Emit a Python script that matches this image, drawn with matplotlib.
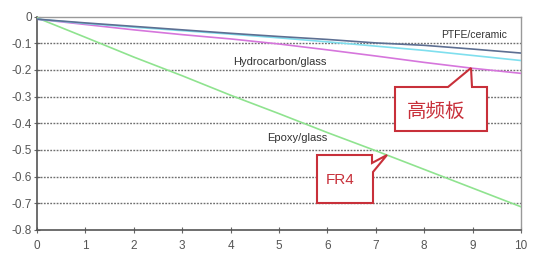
import matplotlib
matplotlib.use("Agg")
import matplotlib.pyplot as plt
from matplotlib.patches import Polygon

plt.rcParams['font.family'] = ['Liberation Sans', 'Noto Sans CJK SC', 'DejaVu Sans']

x = [0, 1, 2, 3, 4, 5, 6, 7, 8, 9, 10]
ptfe = [-0.010, -0.024, -0.037, -0.050, -0.063, -0.075, -0.086, -0.099, -0.108, -0.122, -0.137]
cyan = [-0.010, -0.026, -0.040, -0.053, -0.066, -0.080, -0.095, -0.111, -0.127, -0.146, -0.165]
hydro = [-0.010, -0.030, -0.050, -0.068, -0.084, -0.103, -0.125, -0.148, -0.172, -0.194, -0.213]
epoxy = [-0.005, -0.078, -0.152, -0.222, -0.295, -0.364, -0.435, -0.503, -0.573, -0.643, -0.713]

yticks = [0, -0.1, -0.2, -0.3, -0.4, -0.5, -0.6, -0.7, -0.8]
ytick_labels = ['0', '-0.1', '-0.2', '-0.3', '-0.4', '-0.5', '-0.6', '-0.7', '-0.8']
xticks = x
xtick_labels = [str(v) for v in x]

W, H = 539, 260
fig = plt.figure(figsize=(W / 100, H / 100), dpi=100)
x0p, x1p, y0p, y1p = 37, 521, 16.5, 230
ax = fig.add_axes([x0p / W, 1 - y1p / H, (x1p - x0p) / W, (y1p - y0p) / H])
ax.set_xlim(0, 10)
ax.set_ylim(-0.8, 0)

for yv in yticks[1:-1]:
    ax.axhline(yv, color='#6f6f6f', lw=1.0, ls=(0, (1.3, 1.0)), zorder=1)

ax.plot(x, epoxy, color='#8fe38f', lw=1.2, zorder=3)
ax.plot(x, hydro, color='#d676dc', lw=1.2, zorder=3)
ax.plot(x, cyan, color='#7fdfee', lw=1.2, zorder=3)
ax.plot(x, ptfe, color='#5d6f92', lw=1.2, zorder=4)

ax.set_yticks(yticks)
ax.set_yticklabels(ytick_labels)
ax.set_xticks(xticks)
ax.set_xticklabels(xtick_labels)
ax.tick_params(axis='both', direction='inout', length=4, width=0.8, color='#666666',
               labelsize=8.5, labelcolor='#555555')
ax.tick_params(axis='y', pad=1.5)
ax.tick_params(axis='x', pad=5)
for s in ['left', 'bottom']:
    ax.spines[s].set_color('#555555')
    ax.spines[s].set_linewidth(1.2)
for s in ['top', 'right']:
    ax.spines[s].set_color('#999999')
    ax.spines[s].set_linewidth(1.0)

txtc = '#333333'
ax.text(9.02, -0.069, 'PTFE/ceramic', fontsize=7.5, color=txtc, ha='center', va='center')
ax.text(5.02, -0.170, 'Hydrocarbon/glass', fontsize=8, color=txtc, ha='center', va='center')
ax.text(5.37, -0.455, 'Epoxy/glass', fontsize=8, color=txtc, ha='center', va='center')

def px2d(px, py):
    return ((px - x0p) / (x1p - x0p) * 10, -(py - y0p) / (y1p - y0p) * 0.8)

red = '#c8303a'
call1 = [(395, 87), (448, 87), (471, 68), (472, 87), (487, 87), (487, 131), (395, 131)]
call2 = [(317, 155), (372, 155), (372, 163), (387, 155), (373, 172), (373, 203), (317, 203)]
for pts in (call1, call2):
    ax.add_patch(Polygon([px2d(*p) for p in pts], closed=True, facecolor='white',
                         edgecolor=red, lw=1.5, zorder=6, clip_on=False))

cx, cy = px2d(436, 111)
ax.text(cx, cy, '高频板', fontsize=14, color=red, ha='center', va='center', zorder=7,
        family=['Noto Sans CJK SC'])
cx, cy = px2d(340, 180)
ax.text(cx, cy, 'FR4', fontsize=11, color=red, ha='center', va='center', zorder=7)

fig.savefig('out.png', dpi=100)
